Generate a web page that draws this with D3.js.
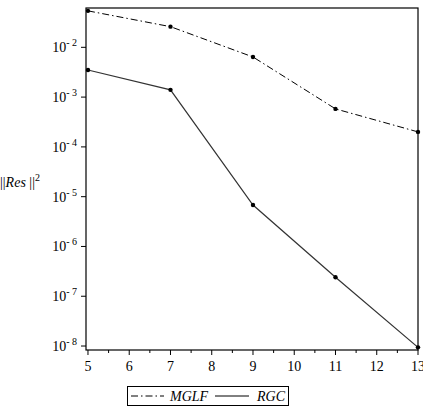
<!DOCTYPE html>
<html><head><meta charset="utf-8">
<script src="https://cdn.jsdelivr.net/npm/d3@7"></script>
<style>body{margin:0;background:#fff}svg{display:block}
svg text{font-family:"Liberation Serif","Times New Roman",Tinos,"DejaVu Serif",serif;fill:#000}</style>
</head><body>
<script>
const xValues = [5, 7, 9, 11, 13];
const mglf = [0.054, 0.026, 0.0064, 0.00058, 0.0002];
const rgc = [0.0035, 0.0014, 6.8e-6, 2.4e-7, 9.4e-9];
const xTicks = [5, 6, 7, 8, 9, 10, 11, 12, 13];
const yTickExps = [-2, -3, -4, -5, -6, -7, -8];
const seriesNames = ["MGLF", "RGC"];

const W = 423, H = 408;
const svg = d3.select("body").append("svg").attr("width", W).attr("height", H);

const pL = 86, pR = 418, pT = 8, pB = 350;
const x = d3.scaleLinear().domain([4.952, 13]).range([pL, pR]);
const y = d3.scaleLog().domain([Math.pow(10, -8.08), Math.pow(10, -1.21)]).range([pB, pT]);

// frame
svg.append("rect").attr("x", pL).attr("y", pT).attr("width", pR - pL).attr("height", pB - pT)
  .attr("fill", "none").attr("stroke", "#000").attr("stroke-width", 1.2);

// x axis ticks
const xMinor = d3.range(5.5, 13, 1);
svg.selectAll(".xmaj").data(xTicks).join("line")
  .attr("x1", d => x(d)).attr("x2", d => x(d)).attr("y1", pB).attr("y2", pB + 5)
  .attr("stroke", "#000").attr("stroke-width", 1);
svg.selectAll(".xmin").data(xMinor).join("line")
  .attr("x1", d => x(d)).attr("x2", d => x(d)).attr("y1", pB).attr("y2", pB + 3)
  .attr("stroke", "#000").attr("stroke-width", 1);
svg.selectAll(".xlab").data(xTicks).join("text")
  .attr("x", d => x(d)).attr("y", pB + 21).attr("text-anchor", "middle")
  .attr("font-size", 14).text(d => d);

// y axis ticks
svg.selectAll(".ymaj").data(yTickExps).join("line")
  .attr("x1", pL - 5).attr("x2", pL).attr("y1", d => y(Math.pow(10, d))).attr("y2", d => y(Math.pow(10, d)))
  .attr("stroke", "#000").attr("stroke-width", 1);
const yl = svg.selectAll(".ylab").data(yTickExps).join("text")
  .attr("x", pL - 9).attr("y", d => y(Math.pow(10, d)) + 5).attr("text-anchor", "end")
  .attr("font-size", 14);
yl.append("tspan").text("10");
yl.append("tspan").attr("dy", -6).attr("font-size", 10).text(d => "- " + (-d));

// y label
const ylab = svg.append("text").attr("x", 0).attr("y", 187).attr("font-size", 14);
ylab.append("tspan").text("||");
ylab.append("tspan").attr("font-style", "italic").text("Res");
ylab.append("tspan").text(" ||");
ylab.append("tspan").attr("dy", -6).attr("font-size", 10).text("2");

const line = d3.line().x(d => x(d[0])).y(d => y(d[1]));
const mData = xValues.map((v, i) => [v, mglf[i]]);
const rData = xValues.map((v, i) => [v, rgc[i]]);

svg.append("path").datum(mData).attr("d", line).attr("fill", "none").attr("stroke", "#000")
  .attr("stroke-width", 1).attr("stroke-dasharray", "7,3,1.5,3");
svg.append("path").datum(rData).attr("d", line).attr("fill", "none").attr("stroke", "#333")
  .attr("stroke-width", 1.2);
svg.selectAll(".mp").data(mData).join("circle").attr("cx", d => x(d[0])).attr("cy", d => y(d[1]))
  .attr("r", 2.2).attr("fill", "#000");
svg.selectAll(".rp").data(rData).join("circle").attr("cx", d => x(d[0])).attr("cy", d => y(d[1]))
  .attr("r", 2.2).attr("fill", "#000");

// legend
const lg = svg.append("g");
lg.append("rect").attr("x", 127.5).attr("y", 386.5).attr("width", 161).attr("height", 19)
  .attr("fill", "none").attr("stroke", "#000").attr("stroke-width", 1);
lg.append("line").attr("x1", 131).attr("x2", 164).attr("y1", 396).attr("y2", 396)
  .attr("stroke", "#000").attr("stroke-dasharray", "7,3,1.5,3");
lg.append("text").attr("x", 170).attr("y", 401).attr("font-style", "italic")
  .attr("font-size", 14).text(seriesNames[0]);
lg.append("line").attr("x1", 215).attr("x2", 249).attr("y1", 396).attr("y2", 396)
  .attr("stroke", "#000").attr("stroke-width", 1);
lg.append("text").attr("x", 257).attr("y", 401).attr("font-style", "italic")
  .attr("font-size", 14).text(seriesNames[1]);
</script>
</body></html>
